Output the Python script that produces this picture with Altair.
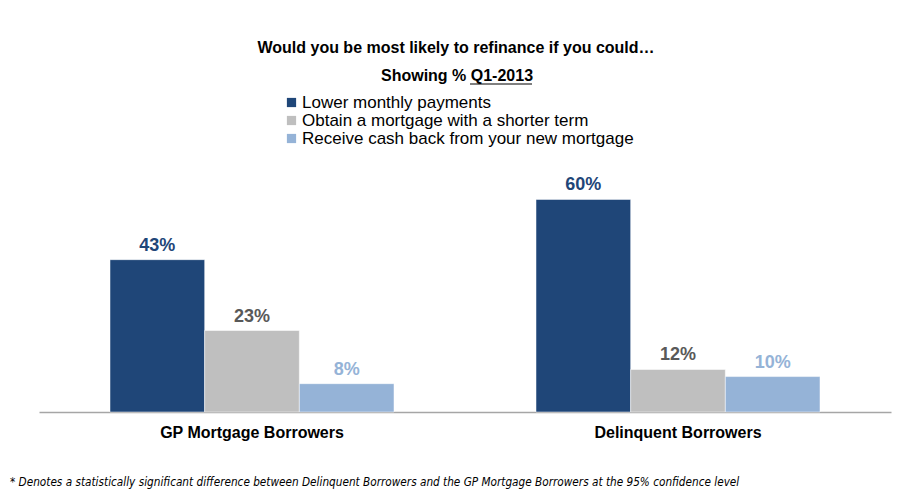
import altair as alt
import pandas as pd

groups = ["GP Mortgage Borrowers", "Delinquent Borrowers"]
series = ["Lower monthly payments",
          "Obtain a mortgage with a shorter term",
          "Receive cash back from your new mortgage"]
gp_values = [43, 23, 8]
delinquent_values = [60, 12, 10]
bar_colors = ["#1F4678", "#BFBFBF", "#95B3D7"]
label_colors = ["#1F4678", "#595959", "#95B3D7"]
title_text = "Would you be most likely to refinance if you could…"
subtitle_text = "Showing % Q1-2013"
footnote = ("* Denotes a statistically significant difference between Delinquent Borrowers "
            "and the GP Mortgage Borrowers at the 95% confidence level")

rows = []
for g, vals in zip(groups, [gp_values, delinquent_values]):
    for i, (s, v) in enumerate(zip(series, vals)):
        rows.append({"group": g, "series": s, "order": i, "value": v,
                     "label": f"{v}%"})
df = pd.DataFrame(rows)

FONT = "Liberation Sans"

x_enc = alt.X("group:N", sort=groups,
              scale=alt.Scale(paddingInner=1/3, paddingOuter=1/6),
              axis=alt.Axis(title=None, labelAngle=0, ticks=False,
                            domainColor="#A6A6A6", domainWidth=1.5,
                            labelFont=FONT, labelFontSize=16, labelFontWeight="bold",
                            labelColor="#000000", labelPadding=12, labelLimit=600))
y_enc = alt.Y("value:Q", scale=alt.Scale(domain=[0, 70]), axis=None)
xo = alt.XOffset("series:N", sort=series)

bars = alt.Chart(df).mark_bar(stroke="white", strokeWidth=0.5).encode(
    x=x_enc, y=y_enc, xOffset=xo,
    color=alt.Color("series:N", sort=series,
                    scale=alt.Scale(domain=series, range=bar_colors),
                    legend=alt.Legend(title=None, orient="none", legendX=244, legendY=-70,
                                      symbolType="square", symbolSize=85,
                                      symbolStrokeWidth=0, labelFont=FONT,
                                      labelFontSize=17, labelColor="#000000",
                                      labelLimit=600, rowPadding=0, labelOffset=2,
                                      symbolOffset=0))
)

labels = alt.Chart(df).mark_text(baseline="alphabetic", dy=-9, font=FONT,
                                 fontSize=18, fontWeight="bold").encode(
    x=x_enc, y=y_enc, xOffset=xo, text="label:N",
    color=alt.Color("series:N", sort=series,
                    scale=alt.Scale(domain=series, range=label_colors), legend=None)
)

title = alt.Chart(pd.DataFrame({"t": [title_text]})).mark_text(
    align="center", baseline="alphabetic", font=FONT, fontSize=16,
    fontWeight="bold", color="#000000"
).encode(text="t:N", x=alt.value(417), y=alt.value(-111))

subtitle = alt.Chart(pd.DataFrame({"t": [subtitle_text]})).mark_text(
    align="center", baseline="alphabetic", font=FONT, fontSize=16,
    fontWeight="bold", color="#000000"
).encode(text="t:N", x=alt.value(418), y=alt.value(-83))

underline = alt.Chart(pd.DataFrame({"a": [0]})).mark_rule(color="#000000", strokeWidth=1.2).encode(
    x=alt.value(431), x2=alt.value(493), y=alt.value(-80)
)

foot = alt.Chart(pd.DataFrame({"t": [footnote]})).mark_text(
    align="left", baseline="alphabetic", font="DejaVu Sans Condensed, Liberation Sans",
    fontSize=11.7, fontStyle="italic", color="#000000"
).encode(text="t:N", x=alt.value(-29), y=alt.value(322))

chart = alt.layer(bars, labels, title, subtitle, underline, foot).resolve_scale(
    color="independent"
).properties(
    width=852, height=248,
    background="white",
    autosize=alt.AutoSizeParams(type="none"),
    padding={"left": 31, "top": 156, "right": 6, "bottom": 78},
).configure_view(strokeWidth=0, stroke="transparent")

chart.save("out.html", embed_options={"renderer": "svg", "actions": False})
